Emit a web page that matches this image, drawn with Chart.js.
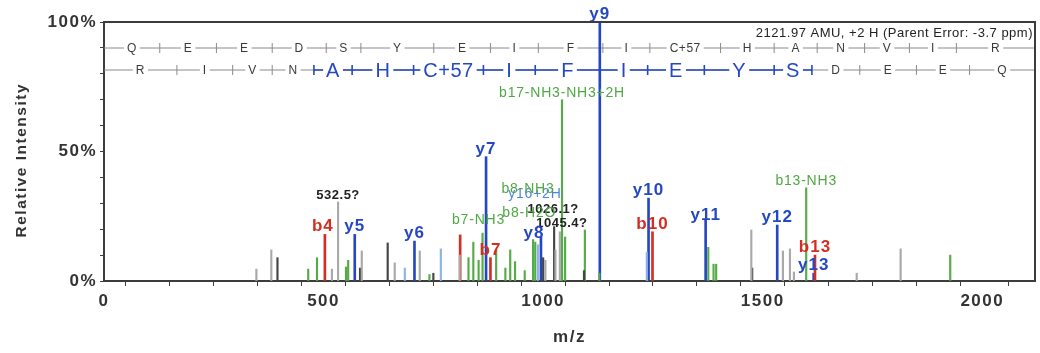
<!DOCTYPE html>
<html>
<head>
<meta charset="utf-8">
<script src="https://cdn.jsdelivr.net/npm/chart.js@4.4.1/dist/chart.umd.min.js"></script>
<style>
  html, body { margin: 0; padding: 0; background: #fff; }
</style>
</head>
<body>
<canvas id="spectrum" width="1040" height="353"></canvas>
<script>
// y ions (blue)
const yMz = [571, 707, 870, 995, 1129, 1240, 1370, 1533, 1616];
const yInt = [18, 15.4, 48, 17, 100, 32, 23.5, 21.6, 3];
const yLabels = ['y5', 'y6', 'y7', 'y8', 'y9', 'y10', 'y11', 'y12', 'y13'];

// b ions (red)
const bMz = [503, 811, 880, 1249, 1619];
const bInt = [18, 17.8, 9, 19, 10];
const bLabels = ['b4', '', 'b7', 'b10', 'b13'];

// neutral losses (green)
const lossMz = [465, 485, 551, 556, 741, 830, 841, 853, 862, 893, 914, 925, 936, 958, 977, 982, 1043, 1050, 1095, 1128, 1376, 1388, 1394, 1599, 1927];
const lossInt = [4.6, 9, 5.4, 8, 2.5, 9, 15, 8, 18.5, 12, 5, 12, 7.5, 4, 16, 15, 70, 17, 19.7, 3, 13, 6.5, 6.5, 36, 10];
const lossLabels = ['', '', '', '', '', '', '', '', 'b7-NH3', '', '', '', '', '', 'b8-NH3', 'b8-H2O', 'b17-NH3-NH3+2H', '', '', '', '', '', '', 'b13-NH3', ''];

// other y-type peaks (light blue)
const ltMz = [685, 767, 988, 1236];
const ltInt = [5, 12.4, 14, 11];
const ltLabels = ['', '', 'y16+2H', ''];

// unassigned peaks
const grayMz = [347, 381, 519, 533, 587, 662, 719, 810, 1005, 1028, 1038, 1474, 1546, 1562, 1571, 1714, 1814];
const grayInt = [4.6, 12, 4.6, 30.5, 11.6, 7, 11.6, 10, 8, 12, 19, 19.7, 11.6, 12.4, 3.5, 3, 12.4];
const grayLabels = ['', '', '', '532.5?', '', '', '', '', '', '', '1045.4?', '', '', '', '', '', ''];
const darkMz = [395, 583, 646, 750, 1000, 1025, 1093, 1476];
const darkInt = [9, 5, 14.7, 3, 9, 21, 4, 5];
const darkLabels = ['', '', '', '', '', '1026.1?', '', ''];

// fragment ladders across the top
const topRowLetters = ['Q', 'E', 'E', 'D', 'S', 'Y', 'E', 'I', 'F', 'I', 'C+57', 'H', 'A', 'N', 'V', 'I', 'R'];
const topRowCuts = [127, 256, 383, 506, 585, 751, 880, 989, 1136, 1243, 1404, 1526, 1624, 1732, 1834, 1941];
const bottomRowLetters = ['R', 'I', 'V', 'N', 'A', 'H', 'C+57', 'I', 'F', 'I', 'E', 'Y', 'S', 'D', 'E', 'E', 'Q'];
const bottomRowCuts = [166, 293, 383, 478, 565, 705, 864, 982, 1129, 1238, 1367, 1526, 1612, 1721, 1850, 1971];
const bottomRowHighlight = [4, 12]; // letters A..S drawn in blue

const parentText = '2121.97 AMU, +2 H (Parent Error: -3.7 ppm)';

const BLUE = '#2548c2';
const RED = '#d42e24';
const GREEN = '#55ab46';
const FONT = 'Arial, "Liberation Sans", sans-serif';

// small hand nudges for crowded labels [dx, dy]
const labelNudge = {
  'b4': [-2, 0], 'b7-NH3': [-4, -6], 'b8-NH3': [-5, -44], 'b8-H2O': [-6, -22],
  'y16+2H': [-3, -44], '1026.1?': [-1, -11], '1045.4?': [2, -2], 'y8': [-7, 4], 'y11': [0, 3]
};

const toPoints = (mz, inten) => mz.map((m, i) => ({ x: m, y: inten[i] }));

const makeSet = (mz, inten, labels, color, width, labelColor, labelFont, spacing) => ({
  data: toPoints(mz, inten),
  backgroundColor: color,
  barThickness: width,
  grouped: false,
  peakLabels: labels,
  labelColor: labelColor,
  labelFont: labelFont,
  labelSpacing: spacing
});

const sequencePlugin = {
  id: 'sequence',
  beforeDraw(chart) {
    // the source image text is wide; widen all library text a little
    chart.ctx.letterSpacing = '1.5px';
  },
  beforeDatasetsDraw(chart) {
    const { ctx, chartArea, scales: { x } } = chart;

    const drawRow = (letters, cuts, yPos, hi) => {
      const bounds = [0, ...cuts, x.max];
      ctx.save();
      ctx.lineWidth = 1;
      ctx.strokeStyle = '#8a8a8a';
      ctx.beginPath();
      ctx.moveTo(chartArea.left, yPos);
      ctx.lineTo(chartArea.right, yPos);
      ctx.stroke();
      if (hi) {
        ctx.strokeStyle = BLUE;
        ctx.lineWidth = 1.6;
        ctx.beginPath();
        ctx.moveTo(x.getPixelForValue(cuts[hi[0] - 1]), yPos);
        ctx.lineTo(x.getPixelForValue(cuts[hi[1]]), yPos);
        ctx.stroke();
      }
      cuts.forEach((c, i) => {
        const inBlue = hi && i >= hi[0] - 1 && i <= hi[1];
        ctx.strokeStyle = inBlue ? BLUE : '#8a8a8a';
        ctx.lineWidth = inBlue ? 1.6 : 1;
        const px = x.getPixelForValue(c);
        ctx.beginPath();
        ctx.moveTo(px, yPos - 5);
        ctx.lineTo(px, yPos + 5);
        ctx.stroke();
      });
      ctx.textAlign = 'center';
      ctx.textBaseline = 'middle';
      letters.forEach((l, i) => {
        const blue = hi && i >= hi[0] && i <= hi[1];
        ctx.font = blue ? '20px ' + FONT : '12px ' + FONT;
        ctx.letterSpacing = '0.5px';
        const px = x.getPixelForValue((bounds[i] + bounds[i + 1]) / 2);
        const w = ctx.measureText(l).width + 6;
        ctx.fillStyle = '#fff';
        ctx.fillRect(px - w / 2, yPos - 3, w, 6);
        ctx.fillStyle = blue ? BLUE : '#3a3a3a';
        ctx.fillText(l, px, yPos + (blue ? 1 : 0.5));
      });
      ctx.restore();
    };

    drawRow(topRowLetters, topRowCuts, chartArea.top + 26, null);
    drawRow(bottomRowLetters, bottomRowCuts, chartArea.top + 48, bottomRowHighlight);

    ctx.save();
    ctx.font = '13px ' + FONT;
    ctx.letterSpacing = '0.5px';
    ctx.fillStyle = '#222';
    ctx.textAlign = 'right';
    ctx.textBaseline = 'alphabetic';
    ctx.fillText(parentText, chartArea.right - 2, chartArea.top + 15);
    ctx.restore();
  },
  afterDatasetsDraw(chart) {
    const { ctx, chartArea } = chart;
    ctx.save();
    chart.data.datasets.forEach((ds, di) => {
      const meta = chart.getDatasetMeta(di);
      ds.peakLabels.forEach((lab, i) => {
        if (!lab) return;
        const el = meta.data[i];
        const n = labelNudge[lab] || [0, 0];
        ctx.font = ds.labelFont;
        ctx.letterSpacing = ds.labelSpacing;
        ctx.fillStyle = ds.labelColor;
        ctx.textAlign = 'center';
        ctx.textBaseline = 'alphabetic';
        ctx.fillText(lab, el.x + n[0], el.y - 3 + n[1]);
      });
    });
    // frame
    ctx.strokeStyle = '#3c3c3c';
    ctx.lineWidth = 2;
    ctx.beginPath();
    ctx.moveTo(chartArea.left, chartArea.top);
    ctx.lineTo(chartArea.right, chartArea.top);
    ctx.lineTo(chartArea.right, chartArea.bottom);
    ctx.stroke();
    ctx.restore();
  },
  afterDraw(chart) {
    chart.ctx.letterSpacing = '0px';
  }
};

const axisFont = { family: FONT, size: 17, weight: 'bold' };

new Chart(document.getElementById('spectrum'), {
  type: 'bar',
  data: {
    datasets: [
      makeSet(grayMz, grayInt, grayLabels, '#a9a9a9', 1.5, '#222', 'bold 13px ' + FONT, '0.5px'),
      makeSet(darkMz, darkInt, darkLabels, '#454545', 1.5, '#222', 'bold 13px ' + FONT, '0.5px'),
      makeSet(ltMz, ltInt, ltLabels, '#8db3ea', 1.5, '#4f86d8', '14px ' + FONT, '0.8px'),
      makeSet(lossMz, lossInt, lossLabels, GREEN, 1.5, '#4fa844', '14px ' + FONT, '0.8px'),
      makeSet(bMz, bInt, bLabels, RED, 2, RED, 'bold 17px ' + FONT, '1px'),
      makeSet(yMz, yInt, yLabels, BLUE, 2, BLUE, 'bold 17px ' + FONT, '1px')
    ]
  },
  options: {
    responsive: false,
    animation: false,
    layout: { padding: { top: 22, right: 3, left: 0, bottom: 0 } },
    plugins: {
      legend: { display: false },
      tooltip: { enabled: false }
    },
    elements: { bar: { borderWidth: 0 } },
    scales: {
      x: {
        type: 'linear',
        min: 0,
        max: 2120,
        offset: false,
        afterFit: (s) => { s.height = 72; },
        grid: { display: true, drawOnChartArea: false, drawTicks: true, tickLength: 5, color: '#3c3c3c' },
        border: { display: true, color: '#3c3c3c', width: 2 },
        ticks: {
          stepSize: 100,
          autoSkip: false,
          maxRotation: 0,
          padding: 5,
          color: '#333',
          font: axisFont,
          callback: (v) => (v % 500 === 0 ? v : '')
        },
        title: {
          display: true,
          text: 'm/z',
          color: '#333',
          font: axisFont,
          padding: { top: 0, bottom: 5 }
        }
      },
      y: {
        min: 0,
        max: 100,
        afterFit: (s) => { s.width = 104; },
        grid: { display: true, drawOnChartArea: false, drawTicks: true, tickLength: 4, color: '#3c3c3c' },
        border: { display: true, color: '#3c3c3c', width: 2 },
        ticks: {
          stepSize: 10,
          autoSkip: false,
          padding: 3,
          color: '#333',
          font: axisFont,
          callback: (v) => (v % 50 === 0 ? v + '%' : '')
        },
        title: {
          display: true,
          text: 'Relative Intensity   ',
          color: '#333',
          font: { family: FONT, size: 15.5, weight: 'bold' },
          padding: { top: 12, bottom: 0 }
        }
      }
    }
  },
  plugins: [sequencePlugin]
});
</script>
</body>
</html>
